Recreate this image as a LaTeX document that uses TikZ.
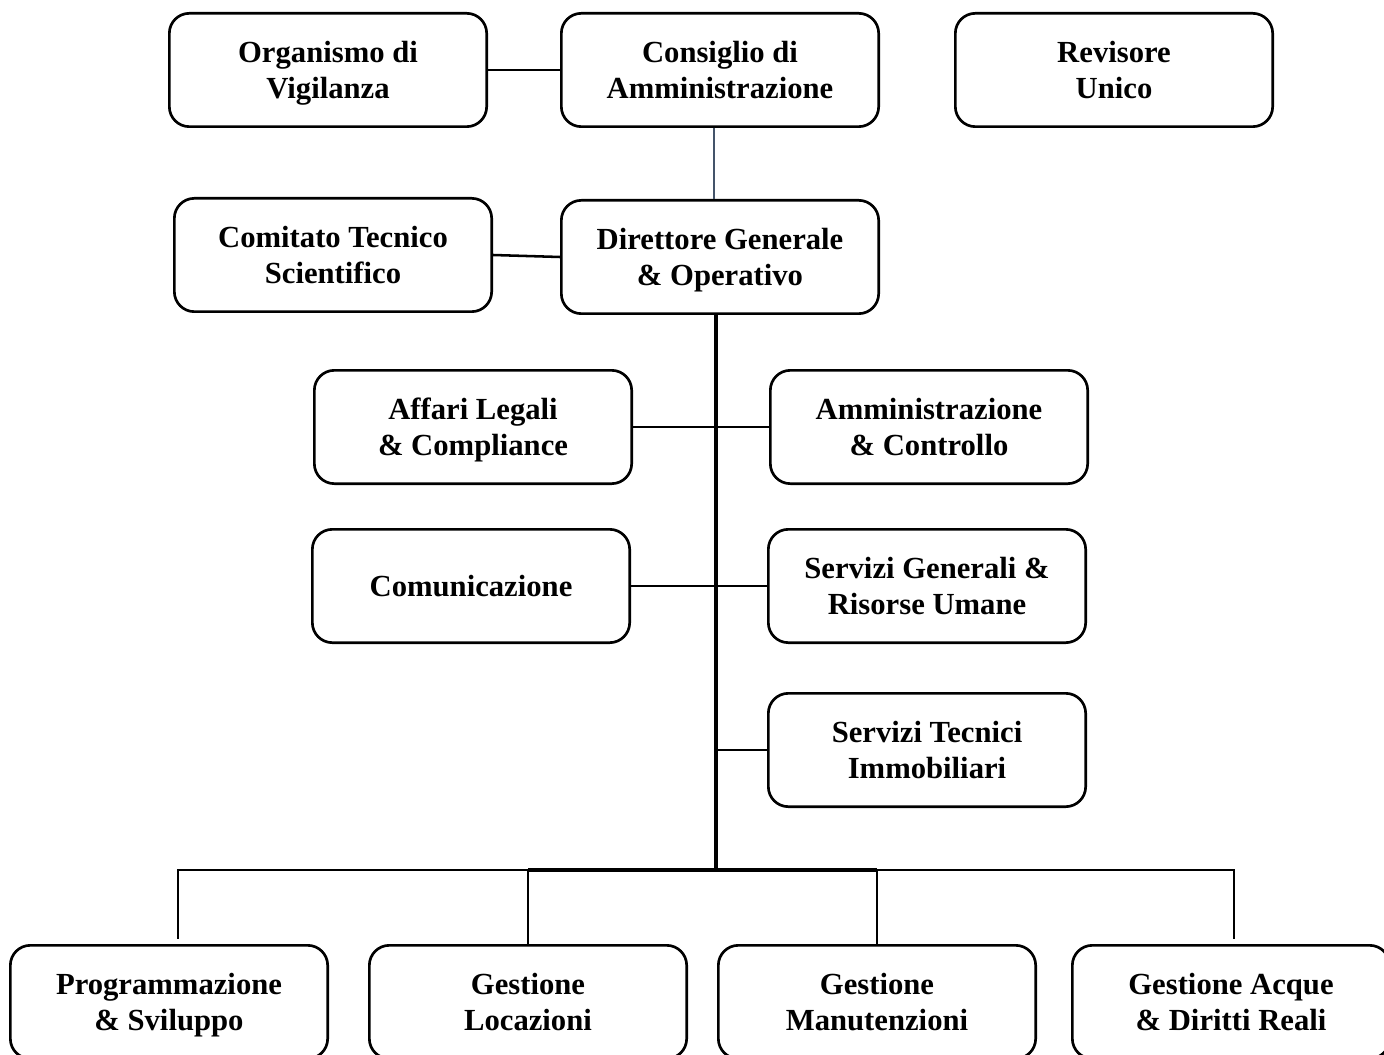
\documentclass[tikz,border=0pt]{standalone}
\usepackage{fontspec}
\setmainfont{Liberation Serif}
\usepackage{tikz}

\begin{document}
\begin{tikzpicture}[x=0.75pt,y=0.75pt,yscale=-1,xscale=1,
  unit/.style={draw, line width=2pt, rounded corners=15pt, minimum width=238pt, minimum height=85pt, inner sep=0.75pt, text depth=0pt, align=center, font=\fontsize{23}{27}\selectfont\bfseries},
  link/.style={line width=1.9pt},
  trunk/.style={line width=3.2pt}
  ]
%set diagram size to 1384 x 1055, bottom row runs off the page
\clip (0,0) rectangle (1384,1055);

% Text Node
\node [unit] (odv) at (328,70) {Organismo di\\Vigilanza};
% Text Node
\node [unit] (cda) at (720,70) {Consiglio di\\Amministrazione};
% Text Node
\node [unit] (rev) at (1114,70) {Revisore\\Unico};
% Text Node
\node [unit] (cts) at (333,255) {Comitato Tecnico\\Scientifico};
% Text Node
\node [unit] (dgo) at (720,257) {Direttore Generale\\\& Operativo};
% Text Node
\node [unit] (alc) at (473,427) {Affari Legali\\\& Compliance};
% Text Node
\node [unit] (amc) at (929,427) {Amministrazione\\\& Controllo};
% Text Node
\node [unit] (com) at (471,586) {Comunicazione};
% Text Node
\node [unit] (sgr) at (927,586) {Servizi Generali \&\\Risorse Umane};
% Text Node
\node [unit] (sti) at (927,750) {Servizi Tecnici\\Immobiliari};
% Text Node
\node [unit] (pes) at (169,1002) {Programmazione\\\& Sviluppo};
% Text Node
\node [unit] (glo) at (528,1002) {Gestione\\Locazioni};
% Text Node
\node [unit] (gma) at (877,1002) {Gestione\\Manutenzioni};
% Text Node
\node [unit] (gad) at (1231,1002) {Gestione Acque\\\& Diritti Reali};

%Straight Lines
\coordinate (hub) at (716,870);
\draw [line width=2.2pt]  (odv.east) -- (cda.west) ;
%Straight Lines
\draw [color={rgb, 255:red, 68; green, 84; blue, 106 }  ,draw opacity=1 ] [line width=1.2pt]  ([xshift=-4.5pt]cda.south) -- ([xshift=-4.5pt]dgo.north) ;
%Straight Lines
\draw [link]  (cts.east) -- (dgo.west) ;
%Straight Lines
\draw [trunk]  (dgo.south -| hub) -- (hub) ;
%Straight Lines
\draw [link]  (alc.east) -- (amc.west) ;
%Straight Lines
\draw [link]  (com.east) -- (sgr.west) ;
%Straight Lines
\draw [link]  (sti.west -| hub) -- (sti.west) ;
%Straight Lines
\draw [link]  (hub) -| ([xshift=6.75pt,yshift=-4pt]pes.north) ;
\draw [link]  (hub) -| ([xshift=2.25pt,yshift=-4pt]gad.north) ;
\draw [trunk]  (hub -| glo.north) -- (hub -| gma.north) ;
\draw [link]  (hub -| glo.north) -- (glo.north) ;
\draw [link]  (hub -| gma.north) -- (gma.north) ;

\end{tikzpicture}
\end{document}
